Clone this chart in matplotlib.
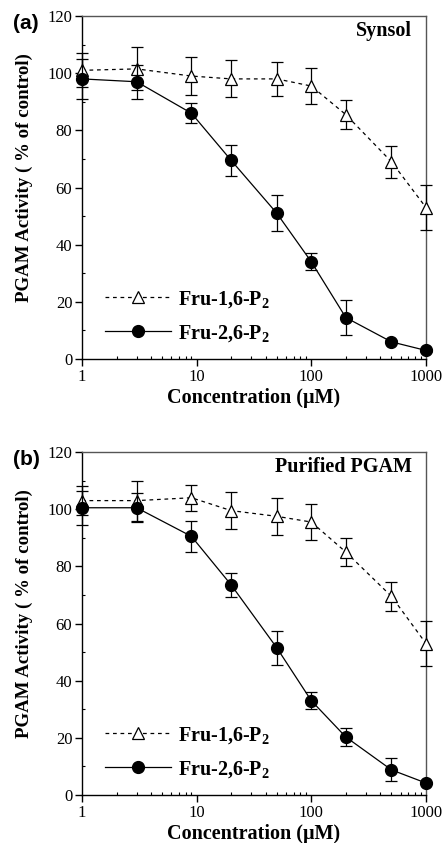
import matplotlib
matplotlib.use("Agg")
import matplotlib.pyplot as plt
from matplotlib.ticker import FixedLocator, NullFormatter
from matplotlib.lines import Line2D

plt.rcParams['font.family'] = ['Liberation Serif', 'DejaVu Serif']
plt.rcParams['mathtext.fontset'] = 'custom'
plt.rcParams['mathtext.rm'] = 'Liberation Serif:bold'
plt.rcParams['mathtext.bf'] = 'Liberation Serif:bold'

conc = [1, 3, 9, 20, 50, 100, 200, 500, 1000]

# panel (a) Synsol
a_fru16 = [101, 101.5, 99, 98, 98, 95.5, 85.5, 69, 53]
a_fru16_err = [6, 7.5, 6.5, 6.5, 6, 6.3, 5, 5.5, 8]
a_fru26 = [98, 97, 86, 69.5, 51, 34, 14.5, 6, 3]
a_fru26_err = [7, 6, 3.5, 5.5, 6.3, 3, 6, 0.5, 0.5]

# panel (b) Purified PGAM
b_fru16 = [103, 103, 104, 99.5, 97.5, 95.5, 85, 69.5, 53]
b_fru16_err = [5, 7, 4.5, 6.5, 6.4, 6.3, 5, 5, 8]
b_fru26 = [100.5, 100.5, 90.5, 73.5, 51.5, 33, 20.3, 8.8, 4.2]
b_fru26_err = [6, 5, 5.5, 4.3, 6, 3, 3, 4, 0.5]

labels = ['Fru-1,6-P$_2$', 'Fru-2,6-P$_2$']

panels = [
    ("(a)", "Synsol", a_fru16, a_fru16_err, a_fru26, a_fru26_err),
    ("(b)", "Purified PGAM", b_fru16, b_fru16_err, b_fru26, b_fru26_err),
]

fig = plt.figure(figsize=(4.42, 8.43), dpi=100)
boxes = [[0.1855, 0.5741, 0.7783, 0.4069], [0.1855, 0.0569, 0.7783, 0.4069]]

for box, (tag, name, t, te, c, ce) in zip(boxes, panels):
    ax = fig.add_axes(box)
    ax.errorbar(conc, t, yerr=te, color='black', ls=(0, (3, 3)), lw=0.9,
                marker='^', ms=8, mfc='white', mec='black', mew=0.9,
                capsize=4, elinewidth=0.9, capthick=0.9, clip_on=False, zorder=3)
    ax.errorbar(conc, c, yerr=ce, color='black', ls='-', lw=0.9,
                marker='o', ms=8.5, mfc='black', mec='black',
                capsize=4, elinewidth=0.9, capthick=0.9, clip_on=False, zorder=4)
    ax.set_xscale('log')
    ax.set_xlim(1, 1000)
    ax.set_ylim(0, 120)
    ax.set_xticks([1, 10, 100, 1000])
    ax.set_xticklabels(['1', '10', '100', '1000'])
    ax.xaxis.set_minor_formatter(NullFormatter())
    ax.set_yticks([0, 20, 40, 60, 80, 100, 120])
    ax.yaxis.set_minor_locator(FixedLocator([10, 30, 50, 70, 90, 110]))
    ax.tick_params(which='major', direction='out', length=5, width=1, labelsize=12, pad=2)
    ax.tick_params(which='minor', direction='in', length=2.5, width=0.8)
    for sp in ax.spines.values():
        sp.set_linewidth(1)
    ax.spines['top'].set_color('#555555')
    ax.spines['right'].set_color('#555555')
    ax.set_xlabel('Concentration (\u03bcM)', fontsize=14.5, fontweight='bold', labelpad=2)
    ax.set_ylabel('PGAM Activity ( % of control)', fontsize=13.6, fontweight='bold')
    ax.yaxis.set_label_coords(-0.143, 0.53)
    ax.text(0.959, 0.955, name, transform=ax.transAxes, ha='right', va='center',
            fontsize=14.5, fontweight='bold')
    ax.text(-0.202, 0.977, tag, transform=ax.transAxes, ha='left', va='center',
            fontsize=15, fontweight='bold', family='Liberation Sans')
    handles = [
        Line2D([], [], color='black', ls=(0, (3, 3)), lw=0.9, marker='^', ms=8,
               mfc='white', mec='black', mew=0.9),
        Line2D([], [], color='black', ls='-', lw=0.9, marker='o', ms=8.5,
               mfc='black', mec='black'),
    ]
    leg = ax.legend(handles, labels, loc='lower left', bbox_to_anchor=(0.067, 0.045),
                    frameon=False, fontsize=14.5, handlelength=3.3, handletextpad=0.3,
                    labelspacing=0.65, borderpad=0, borderaxespad=0)
    for txt in leg.get_texts():
        txt.set_fontweight('bold')

fig.savefig('out.png', dpi=100)
